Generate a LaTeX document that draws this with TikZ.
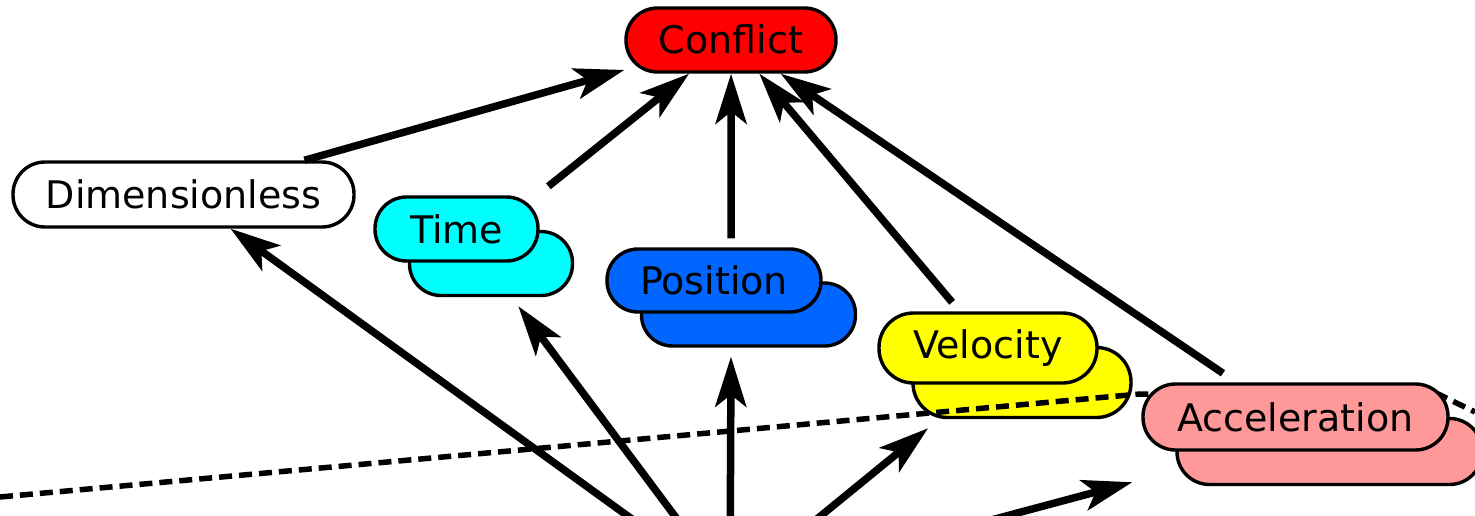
\documentclass[tikz,border=0pt]{standalone}
\usepackage{fontspec}
\setmainfont{DejaVu Sans}
\usetikzlibrary{arrows.meta,fit}
\definecolor{conflictred}{HTML}{FF0000}
\definecolor{timecyan}{HTML}{00FFFF}
\definecolor{posblue}{HTML}{0066FF}
\definecolor{velyellow}{HTML}{FFFF00}
\definecolor{accpink}{HTML}{FF9999}
\newcommand\labfont{\fontsize{38}{45}\selectfont}
\begin{document}
\begin{tikzpicture}[x=1pt,y=-1pt,
  pill/.style n args={4}{draw=black, line width=3.4pt, fill=#1,
    minimum width=#2, minimum height=#3, rounded corners=#4,
    inner sep=0pt, font=\labfont, text height=28pt, text depth=0pt},
  grp/.style={inner sep=0pt, outer sep=9pt},
  arr/.style={line width=7.5pt, -{Stealth[length=50pt, width=31pt, inset=12pt]}},
  boundary/.style={line width=5.5pt, dash pattern=on 13pt off 7pt}
]
\useasboundingbox (0,0) rectangle (1475,516);
\clip (0,0) rectangle (1475,516);

% common source of the lower arrows, below the visible area
\coordinate (src) at (730,590);

% single nodes
\node[pill={conflictred}{210pt}{64pt}{31.5pt}] (conflict) at (731,40) {Conflict};
\node[pill={white}{341pt}{65pt}{32pt}] (dimless) at (183.5,194.5) {Dimensionless};

% stacked (multi-valued) nodes: shadow copy first, then the front copy
\node[pill={timecyan}{163pt}{64pt}{31.5pt}] (timeS) at (491,263.5) {};
\node[pill={timecyan}{163pt}{64pt}{31.5pt}] (timeF) at (456.5,229) {Time};
\node[grp, fit=(timeF)(timeS)] (time) {};

\node[pill={posblue}{214pt}{63pt}{31pt}] (posS) at (748.5,314.5) {};
\node[pill={posblue}{214pt}{63pt}{31pt}] (posF) at (714,280.5) {Position};
\node[grp, fit=(posF)(posS)] (pos) {};

\node[pill={velyellow}{218pt}{70pt}{34.5pt}] (velS) at (1022,382.5) {};
\node[pill={velyellow}{218pt}{70pt}{34.5pt}, text depth=8pt] (velF) at (988,348) {Velocity};
\node[grp, fit=(velF)(velS)] (vel) {};

% dashed boundary, passing over Velocity and under Acceleration
\draw[boundary] (0,497) -- (1140,394) -- (1300,398) -- (1436,393) -- (1475,412);

\node[pill={accpink}{305pt}{66pt}{32.5pt}] (accS) at (1329.5,451.5) {};
\node[pill={accpink}{305pt}{66pt}{32.5pt}] (accF) at (1295.5,417) {Acceleration};
\node[grp, fit=(accF)(accS)] (acc) {};

% arrows into Conflict
\draw[arr] (dimless) -- (conflict);
\draw[arr] (time) -- (conflict);
\draw[arr] (pos) -- (conflict);
\draw[arr] (vel) -- (conflict);
\draw[arr] (acc) -- (conflict);

% arrows from the common source
\draw[arr] (src) -- (dimless);
\draw[arr] (src) -- (time);
\draw[arr] (src) -- (pos);
\draw[arr] (src) -- (vel);
\draw[arr] (src) -- (acc);
\end{tikzpicture}
\end{document}
